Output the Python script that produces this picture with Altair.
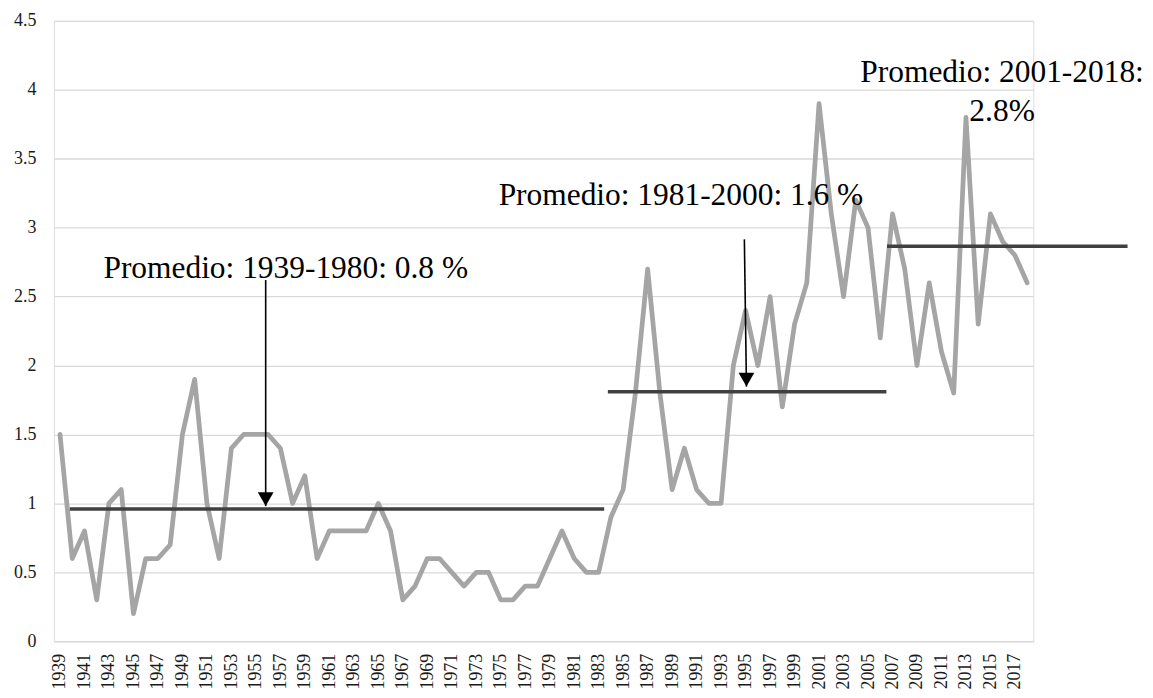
import altair as alt
import pandas as pd

# ---- data ----
years = list(range(1939, 2019))
values = [
    1.5, 0.6, 0.8, 0.3, 1.0, 1.1, 0.2, 0.6, 0.6, 0.7,   # 1939-1948
    1.5, 1.9, 1.0, 0.6, 1.4, 1.5, 1.5, 1.5, 1.4, 1.0,   # 1949-1958
    1.2, 0.6, 0.8, 0.8, 0.8, 0.8, 1.0, 0.8, 0.3, 0.4,   # 1959-1968
    0.6, 0.6, 0.5, 0.4, 0.5, 0.5, 0.3, 0.3, 0.4, 0.4,   # 1969-1978
    0.6, 0.8, 0.6, 0.5, 0.5, 0.9, 1.1, 1.8, 2.7, 1.8,   # 1979-1988
    1.1, 1.4, 1.1, 1.0, 1.0, 2.0, 2.4, 2.0, 2.5, 1.7,   # 1989-1998
    2.3, 2.6, 3.9, 3.1, 2.5, 3.2, 3.0, 2.2, 3.1, 2.7,   # 1999-2008
    2.0, 2.6, 2.1, 1.8, 3.8, 2.3, 3.1, 2.9, 2.8, 2.6,   # 2009-2018
]

tick_years = list(range(1939, 2019, 2))
y_ticks = [0, 0.5, 1, 1.5, 2, 2.5, 3, 3.5, 4, 4.5]

# average segments (drawn shapes in the original)
avg_start = [1939.8, 1983.75, 2006.55]
avg_end = [1983.45, 2006.5, 2026.2]
avg_value = [0.96, 1.81, 2.865]

# arrows
arrow_x = [1955.8, 1994.9]
arrow_x2 = [1955.8, 1995.07]
arrow_top = [2.62, 2.915]
arrow_tip = [0.98, 1.847]

# annotation texts
ann_text = ["Promedio: 1939-1980: 0.8 %", "Promedio: 1981-2000: 1.6 %",
            "Promedio: 2001-2018:", "2.8%"]
ann_x = [1957.44, 1989.72, 2015.95, 2015.95]
ann_y = [2.632, 3.162, 4.054, 3.777]

FONT = "'Times New Roman', 'Liberation Serif', 'DejaVu Serif', serif"

series = pd.DataFrame({"year": years, "value": values})
avg_df = pd.DataFrame({"x": avg_start, "x2": avg_end, "y": avg_value})
arrow_df = pd.DataFrame({"x": arrow_x, "x2": arrow_x2, "top": arrow_top, "tip": arrow_tip})
ann_df = pd.DataFrame({"text": ann_text, "x": ann_x, "y": ann_y})

xscale = alt.Scale(domain=[1938.5, 2018.5], nice=False, zero=False)
yscale = alt.Scale(domain=[0, 4.5], nice=False)

xaxis = alt.Axis(
    values=tick_years, format="d", labelAngle=-90, labelFontSize=18,
    labelFont=FONT, labelColor="#1a1a1a", labelPadding=12, labelOverlap=False,
    labelFlush=False, labelBound=False, ticks=False, domain=False, grid=False,
    title=None,
)
yaxis = alt.Axis(
    values=y_ticks, labelExpr="'' + datum.value", labelFontSize=18,
    labelFont=FONT, labelColor="#1a1a1a", labelPadding=18, ticks=False,
    domain=False, grid=True, gridColor="#D9D9D9", gridWidth=1.3, title=None,
)

line = alt.Chart(series).mark_line(
    color="#A5A5A5", strokeWidth=4.75, strokeJoin="round", strokeCap="round"
).encode(
    x=alt.X("year:Q", scale=xscale, axis=xaxis),
    y=alt.Y("value:Q", scale=yscale, axis=yaxis),
)

avg = alt.Chart(avg_df).mark_rule(color="#404040", strokeWidth=3.5).encode(
    x=alt.X("x:Q", scale=xscale, axis=xaxis),
    x2="x2:Q",
    y=alt.Y("y:Q", scale=yscale, axis=yaxis),
)

arrow_line = alt.Chart(arrow_df).mark_rule(color="black", strokeWidth=1.6).encode(
    x=alt.X("x:Q", scale=xscale, axis=xaxis),
    x2="x2:Q",
    y=alt.Y("top:Q", scale=yscale, axis=yaxis),
    y2="tip:Q",
)

arrow_head = alt.Chart(arrow_df).mark_point(
    shape="triangle-down", size=250, filled=True, color="black", opacity=1, yOffset=-7
).encode(
    x=alt.X("x2:Q", scale=xscale, axis=xaxis),
    y=alt.Y("tip:Q", scale=yscale, axis=yaxis),
)

texts = alt.Chart(ann_df).mark_text(
    font=FONT, fontSize=31.5, color="black", align="center", baseline="alphabetic"
).encode(
    x=alt.X("x:Q", scale=xscale, axis=xaxis),
    y=alt.Y("y:Q", scale=yscale, axis=yaxis),
    text="text:N",
)

chart = alt.layer(line, avg, arrow_line, arrow_head, texts).properties(
    width=982,
    height=622,
    autosize=alt.AutoSizeParams(type="none"),
    padding={"left": 46, "top": 12, "right": 112, "bottom": 56},
).configure_view(strokeWidth=0).configure(background="white").configure_axisX(
    labelOverlap=False, labelFont=FONT
).configure_axisY(labelFont=FONT)

chart.save("out.html", embed_options={"renderer": "svg", "actions": False})
